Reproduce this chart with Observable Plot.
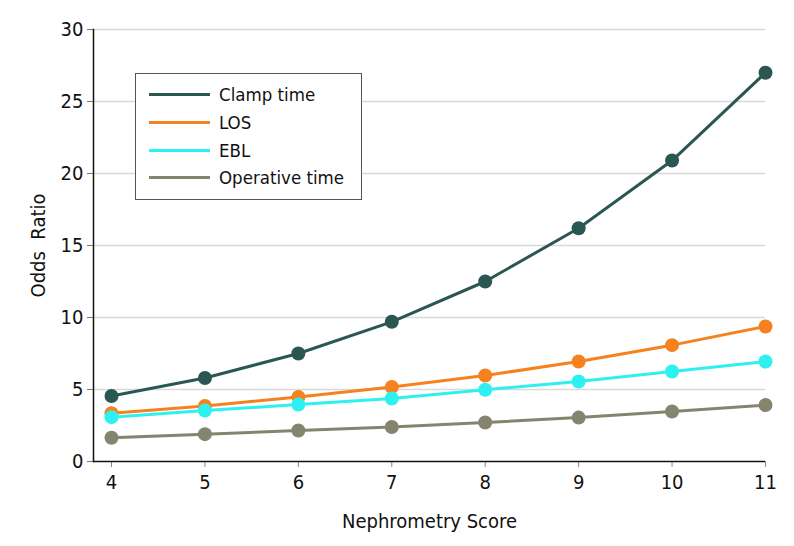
<!DOCTYPE html>
<html><head><meta charset="utf-8">
<script src="https://cdn.jsdelivr.net/npm/d3@7"></script>
<script src="https://cdn.jsdelivr.net/npm/@observablehq/plot@0.6"></script>
<style>
body{margin:0;background:#fff}
#wrap{position:relative;width:794px;height:546px;font-family:"DejaVu Sans Condensed","DejaVu Sans",sans-serif}
#legend{position:absolute;left:135px;top:73px;width:227px;height:127px;box-sizing:border-box;border:1px solid #555;background:#fff;padding:7px 0 0 13px}
.item{display:flex;align-items:center;height:27.7px;font-size:18.5px;color:#111}
.swatch{width:61px;height:3px;margin-right:9px}
</style>
</head><body><div id="wrap"></div>
<script>
const scores = [4,5,6,7,8,9,10,11];
const seriesNames = ["Clamp time","LOS","EBL","Operative time"];
const clampTime = [4.55,5.8,7.5,9.7,12.5,16.2,20.9,27.0];
const los = [3.35,3.85,4.48,5.17,5.97,6.94,8.08,9.38];
const ebl = [3.08,3.54,3.95,4.37,4.98,5.56,6.25,6.94];
const operativeTime = [1.65,1.9,2.15,2.4,2.71,3.05,3.47,3.92];
const colors = ["#2b5753","#f5821f","#2ff0f0","#85846f"];
const yTicks = [0,5,10,15,20,25,30];
const xTicks = scores;

const valuesBySeries = [clampTime, los, ebl, operativeTime];
const data = [];
seriesNames.forEach((s, i) => scores.forEach((x, j) => data.push({series: s, score: x, odds: valuesBySeries[i][j]})));

const marks = [
  Plot.gridY(yTicks.filter(d => d > 0), {stroke: "#d9d9d9", strokeOpacity: 1, strokeWidth: 1.5}),
  Plot.axisY(yTicks, {tickSize: 6, tickPadding: 4, fontSize: 20, fill: "#111", stroke: "#777", label: "Odds  Ratio", labelArrow: "none", labelAnchor: "center", labelOffset: 63}),
  Plot.axisX(xTicks, {tickSize: 6, tickPadding: 7, fontSize: 20, fill: "#111", stroke: "#888", label: "Nephrometry Score", labelArrow: "none", labelAnchor: "center", labelOffset: 66}),
  Plot.frame({anchor: "left", stroke: "#111", strokeWidth: 1.5}),
  Plot.ruleY([0], {stroke: "#111", strokeWidth: 1.5})
];
seriesNames.forEach((s, i) => {
  const d = data.filter(r => r.series === s);
  marks.push(Plot.line(d, {x: "score", y: "odds", stroke: colors[i], strokeWidth: 3}));
  marks.push(Plot.dot(d, {x: "score", y: "odds", fill: colors[i], r: 7}));
});

const chart = Plot.plot({
  width: 794, height: 546,
  marginLeft: 93, marginRight: 29, marginTop: 29, marginBottom: 85,
  insetLeft: 18,
  style: {fontFamily: '"DejaVu Sans Condensed","DejaVu Sans",sans-serif', fontSize: "20px", color: "#111", background: "#fff"},
  x: {domain: [4, 11]},
  y: {domain: [0, 30]},
  marks
});
chart.querySelectorAll('g[aria-label$="tick label"], g[aria-label$="label"]').forEach(g => {
  g.setAttribute("font-size", "20");
  g.style.fontSize = "20px";
});
const wrap = document.getElementById("wrap");
wrap.appendChild(chart);
const legend = document.createElement("div");
legend.id = "legend";
seriesNames.forEach((s, i) => {
  const it = document.createElement("div"); it.className = "item";
  const sw = document.createElement("span"); sw.className = "swatch"; sw.style.background = colors[i];
  const t = document.createElement("span"); t.textContent = s;
  it.appendChild(sw); it.appendChild(t); legend.appendChild(it);
});
wrap.appendChild(legend);
</script>
</body></html>
